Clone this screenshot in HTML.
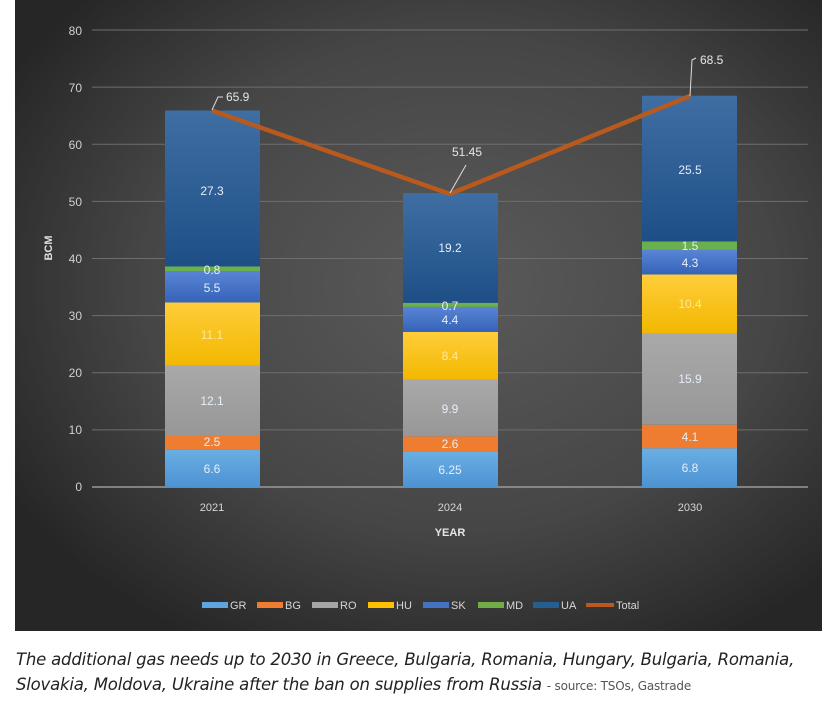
<!DOCTYPE html>
<html><head><meta charset="utf-8"><style>
body{margin:0;width:824px;height:701px;background:#fff;overflow:hidden;font-family:"Liberation Sans",sans-serif}
.cap{position:absolute;left:16px;top:647px;font-size:16.5px;font-style:italic;color:#222;line-height:25px;font-family:"DejaVu Sans","Liberation Sans",sans-serif;letter-spacing:-0.2px}
.cap span{font-style:normal;font-size:12px;color:#555}
</style></head><body>
<svg width="824" height="701" style="position:absolute;left:0;top:0" font-family="Liberation Sans Narrow, Liberation Sans, sans-serif">
<defs>
<radialGradient id="bg" cx="0.55" cy="0.45" r="0.65">
<stop offset="0" stop-color="#5a5a5a"/><stop offset="0.6" stop-color="#464646"/><stop offset="1" stop-color="#262626"/></radialGradient>
<linearGradient id="ua" x1="0" y1="0" x2="0" y2="1"><stop offset="0" stop-color="#3f6ea3"/><stop offset="1" stop-color="#1d4f86"/></linearGradient>
<linearGradient id="sk" x1="0" y1="0" x2="0" y2="1"><stop offset="0" stop-color="#5a85d6"/><stop offset="1" stop-color="#3563b8"/></linearGradient>
<linearGradient id="hu" x1="0" y1="0" x2="0" y2="1"><stop offset="0" stop-color="#ffcd3a"/><stop offset="1" stop-color="#f2b800"/></linearGradient>
<linearGradient id="ro" x1="0" y1="0" x2="0" y2="1"><stop offset="0" stop-color="#a9a9a9"/><stop offset="1" stop-color="#979797"/></linearGradient>
<linearGradient id="gr" x1="0" y1="0" x2="0" y2="1"><stop offset="0" stop-color="#6aaee4"/><stop offset="1" stop-color="#4d93d3"/></linearGradient>
</defs>
<rect x="15" y="0" width="807" height="631" fill="url(#bg)"/>
<g stroke="#6e6e6e" stroke-width="1">
<line x1="92" x2="808" y1="30" y2="30"/><line x1="92" x2="808" y1="87.1" y2="87.1"/><line x1="92" x2="808" y1="144.3" y2="144.3"/><line x1="92" x2="808" y1="201.4" y2="201.4"/><line x1="92" x2="808" y1="258.5" y2="258.5"/><line x1="92" x2="808" y1="315.6" y2="315.6"/><line x1="92" x2="808" y1="372.8" y2="372.8"/><line x1="92" x2="808" y1="429.9" y2="429.9"/>
</g>
<line x1="92" x2="808" y1="487" y2="487" stroke="#9a9a9a" stroke-width="1.5"/>
<g fill="#d0d0d0" font-size="12" text-anchor="end">
<text x="82" y="35">80</text><text x="82" y="92">70</text><text x="82" y="149">60</text><text x="82" y="206">50</text><text x="82" y="263">40</text><text x="82" y="320">30</text><text x="82" y="377">20</text><text x="82" y="434">10</text><text x="82" y="491">0</text>
</g>
<text transform="translate(52,248) rotate(-90)" fill="#e0e0e0" font-size="11" font-weight="bold" text-anchor="middle">BCM</text>
<!-- 2021 -->
<rect x="165" y="449.3" width="95" height="37.7" fill="url(#gr)"/>
<rect x="165" y="435" width="95" height="14.3" fill="#ee7d32"/>
<rect x="165" y="365.9" width="95" height="69.1" fill="url(#ro)"/>
<rect x="165" y="302.5" width="95" height="63.4" fill="url(#hu)"/>
<rect x="165" y="271.1" width="95" height="31.4" fill="url(#sk)"/>
<rect x="165" y="266.5" width="95" height="4.6" fill="#6ab04c"/>
<rect x="165" y="110.5" width="95" height="156" fill="url(#ua)"/>
<!-- 2024 -->
<rect x="403" y="451.3" width="95" height="35.7" fill="url(#gr)"/>
<rect x="403" y="436.4" width="95" height="14.9" fill="#ee7d32"/>
<rect x="403" y="379.9" width="95" height="56.5" fill="url(#ro)"/>
<rect x="403" y="331.9" width="95" height="48" fill="url(#hu)"/>
<rect x="403" y="306.8" width="95" height="25.1" fill="url(#sk)"/>
<rect x="403" y="302.8" width="95" height="4" fill="#6ab04c"/>
<rect x="403" y="193.1" width="95" height="109.7" fill="url(#ua)"/>
<!-- 2030 -->
<rect x="642" y="448.2" width="95" height="38.8" fill="url(#gr)"/>
<rect x="642" y="424.7" width="95" height="23.5" fill="#ee7d32"/>
<rect x="642" y="333.9" width="95" height="90.8" fill="url(#ro)"/>
<rect x="642" y="274.5" width="95" height="59.4" fill="url(#hu)"/>
<rect x="642" y="249.9" width="95" height="24.6" fill="url(#sk)"/>
<rect x="642" y="241.4" width="95" height="8.5" fill="#6ab04c"/>
<rect x="642" y="95.7" width="95" height="145.7" fill="url(#ua)"/>
<g fill="#e6eef8" font-size="12" text-anchor="middle">
<text x="212" y="473">6.6</text><text x="212" y="446">2.5</text><text x="212" y="405">12.1</text><text x="212" y="339" fill="#ffe89a">11.1</text><text x="212" y="292">5.5</text><text x="212" y="274">0.8</text><text x="212" y="195">27.3</text>
<text x="450" y="474">6.25</text><text x="450" y="448">2.6</text><text x="450" y="413">9.9</text><text x="450" y="360" fill="#ffe89a">8.4</text><text x="450" y="324">4.4</text><text x="450" y="310">0.7</text><text x="450" y="252">19.2</text>
<text x="690" y="472">6.8</text><text x="690" y="441">4.1</text><text x="690" y="383">15.9</text><text x="690" y="308" fill="#ffe89a">10.4</text><text x="690" y="267">4.3</text><text x="690" y="250">1.5</text><text x="690" y="174">25.5</text>
</g>
<polyline points="212,110.5 450,194 690,96" fill="none" stroke="#b85a1e" stroke-width="4.5" stroke-linejoin="miter"/>
<g stroke="#ddd" stroke-width="1" fill="none">
<path d="M212,110 L218,97 L223,97"/><path d="M450,193 L466,165"/><path d="M690,96 L692,60 L696,58"/>
</g>
<g fill="#e6e6e6" font-size="12">
<text x="226" y="101">65.9</text><text x="452" y="156">51.45</text><text x="700" y="64">68.5</text>
</g>
<g fill="#d6d6d6" font-size="11" text-anchor="middle">
<text x="212" y="511">2021</text><text x="450" y="511">2024</text><text x="690" y="511">2030</text>
</g>
<text x="450" y="536" fill="#e6e6e6" font-size="11" font-weight="bold" text-anchor="middle">YEAR</text>
<g font-size="11" fill="#d6d6d6">
<rect x="202" y="602" width="26" height="6" fill="#5ea5e0"/><text x="230" y="609">GR</text>
<rect x="257" y="602" width="26" height="6" fill="#ee7d32"/><text x="285" y="609">BG</text>
<rect x="312" y="602" width="26" height="6" fill="#a5a5a5"/><text x="340" y="609">RO</text>
<rect x="368" y="602" width="26" height="6" fill="#ffc000"/><text x="396" y="609">HU</text>
<rect x="423" y="602" width="26" height="6" fill="#4472c4"/><text x="451" y="609">SK</text>
<rect x="478" y="602" width="26" height="6" fill="#70ad47"/><text x="506" y="609">MD</text>
<rect x="533" y="602" width="26" height="6" fill="#255e91"/><text x="561" y="609">UA</text>
<rect x="586" y="603" width="28" height="4" fill="#b85a1e"/><text x="616" y="609">Total</text>
</g>
</svg>
<div class="cap">The additional gas needs up to 2030 in Greece, Bulgaria, Romania, Hungary, Bulgaria, Romania,<br>Slovakia, Moldova, Ukraine after the ban on supplies from Russia <span>- source: TSOs, Gastrade</span></div>
</body></html>
